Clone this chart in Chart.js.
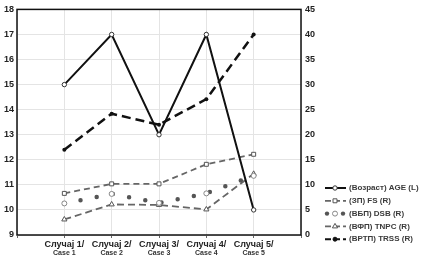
<!DOCTYPE html>
<html>
<head>
<meta charset="utf-8">
<script src="https://cdn.jsdelivr.net/npm/chart.js@4"></script>
<style>
  html, body { margin: 0; padding: 0; background: #fff; }
</style>
</head>
<body>
<canvas id="c" width="422" height="258"></canvas>
<script>
// Подаци по случају (читано са слике)
const cases = ['Случај 1/', 'Случај 2/', 'Случај 3/', 'Случај 4/', 'Случај 5/'];
const casesEn = ['Case 1', 'Case 2', 'Case 3', 'Case 4', 'Case 5'];
const ageL = [15, 17, 13, 17, 10];           // лева оса
const fsR = [8.3, 10.2, 10.2, 14.1, 16.1];   // десна оса
const dsbR = [6.3, 8.2, 6.4, 8.3, 11.8];
const tnpcR = [3.1, 6.1, 6.0, 5.1, 12.2];
const trssR = [17, 24.2, 22, 27.1, 40];
const leftMin = 9, leftMax = 18;
const rightMin = 0, rightMax = 45;

const names = ['(Возраст) AGE (L)', '(ЗП) FS (R)', '(ВБП) DSB (R)', '(ВФП) TNPC (R)', '(ВРТП) TRSS (R)'];

// празна места на крајевима осе
const pad = a => [null, ...a, null];
const FONT = '"Liberation Sans", Arial, sans-serif';

// ============================
// Оквир, други ред ознака и легенда
// ============================
const extras = {
  id: 'extras',
  afterDraw(chart) {
    const ctx = chart.ctx;
    const a = chart.chartArea;
    ctx.save();
    ctx.strokeStyle = '#111';
    ctx.lineWidth = 1.5;
    ctx.strokeRect(a.left, a.top, a.right - a.left, a.bottom - a.top);

    // "Case N" испод
    const xs = chart.scales.x;
    ctx.fillStyle = '#333';
    ctx.font = 'bold 7px ' + FONT;
    ctx.textAlign = 'center';
    ctx.textBaseline = 'middle';
    casesEn.forEach((t, i) => ctx.fillText(t, xs.getPixelForValue(i + 1), 253.5));

    // легенда
    chart.data.datasets.forEach((ds, k) => {
      const y = 188 + k * 12.8;
      ctx.setLineDash([]);
      if (ds.label === names[2]) {
        ctx.fillStyle = '#555';
        [327, 343].forEach(x => { ctx.beginPath(); ctx.arc(x, y, 2.2, 0, Math.PI * 2); ctx.fill(); });
      } else {
        ctx.strokeStyle = ds.borderColor;
        ctx.lineWidth = Math.min(ds.borderWidth, 2);
        ctx.setLineDash(ds.borderDash ? [6, 3] : []);
        ctx.beginPath(); ctx.moveTo(325, y); ctx.lineTo(346, y); ctx.stroke();
        ctx.setLineDash([]);
      }
      ctx.fillStyle = ds.pointBackgroundColor;
      ctx.strokeStyle = ds.pointBorderColor;
      ctx.lineWidth = 1;
      Chart.helpers.drawPoint(ctx, { pointStyle: ds.pointStyle, radius: ds.pointRadius, borderWidth: 1, rotation: 0 }, 335, y);
      ctx.fillStyle = '#3a3a3a';
      ctx.font = 'bold 8px ' + FONT;
      ctx.textAlign = 'left';
      ctx.fillText(ds.label, 349, y);
    });
    ctx.restore();
  }
};

new Chart(document.getElementById('c'), {
  type: 'line',
  data: {
    labels: ['', ...cases, ''],
    datasets: [
      {
        label: names[0], data: pad(ageL), yAxisID: 'yL',
        borderColor: '#111', borderWidth: 2,
        pointStyle: 'circle', pointRadius: 2.2,
        pointBackgroundColor: '#fff', pointBorderColor: '#333', pointBorderWidth: 1
      },
      {
        label: names[1], data: pad(fsR), yAxisID: 'yR',
        borderColor: '#666', borderWidth: 1.8, borderDash: [6, 4],
        pointStyle: 'rect', pointRadius: 2.8,
        pointBackgroundColor: '#fff', pointBorderColor: '#555', pointBorderWidth: 1
      },
      {
        label: names[2], data: pad(dsbR), yAxisID: 'yR',
        borderColor: '#555', borderWidth: 4.5, borderDash: [0, 16.5], borderCapStyle: 'round',
        pointStyle: 'circle', pointRadius: 2.5,
        pointBackgroundColor: '#fff', pointBorderColor: '#888', pointBorderWidth: 1
      },
      {
        label: names[3], data: pad(tnpcR), yAxisID: 'yR',
        borderColor: '#666', borderWidth: 1.8, borderDash: [7, 4],
        pointStyle: 'triangle', pointRadius: 3,
        pointBackgroundColor: '#fff', pointBorderColor: '#555', pointBorderWidth: 1
      },
      {
        label: names[4], data: pad(trssR), yAxisID: 'yR',
        borderColor: '#111', borderWidth: 2.5, borderDash: [9, 5],
        pointStyle: 'circle', pointRadius: 2,
        pointBackgroundColor: '#111', pointBorderColor: '#111', pointBorderWidth: 0
      }
    ]
  },
  options: {
    responsive: false,
    animation: false,
    devicePixelRatio: 1,
    layout: { padding: { top: 6, left: 0, right: 0, bottom: 0 } },
    plugins: { legend: { display: false }, tooltip: { enabled: false } },
    scales: {
      x: {
        afterFit: s => { s.height = 23; },
        grid: { color: '#e4e4e4', tickLength: 3, tickColor: '#666' },
        border: { display: false },
        ticks: { color: '#222', font: { family: FONT, size: 9, weight: 'bold' }, padding: 1, maxRotation: 0, autoSkip: false }
      },
      yL: {
        position: 'left', min: leftMin, max: leftMax,
        afterFit: s => { s.width = 17; },
        grid: { color: '#e4e4e4', drawTicks: false },
        border: { display: false },
        ticks: { stepSize: 1, color: '#222', font: { family: FONT, size: 9, weight: 'bold' }, padding: 3 }
      },
      yR: {
        position: 'right', min: rightMin, max: rightMax,
        afterFit: s => { s.width = 121; },
        grid: { drawOnChartArea: false, drawTicks: false },
        border: { display: false },
        ticks: { stepSize: 5, color: '#222', font: { family: FONT, size: 9, weight: 'bold' }, padding: 4 }
      }
    }
  },
  plugins: [extras]
});
</script>
</body>
</html>
